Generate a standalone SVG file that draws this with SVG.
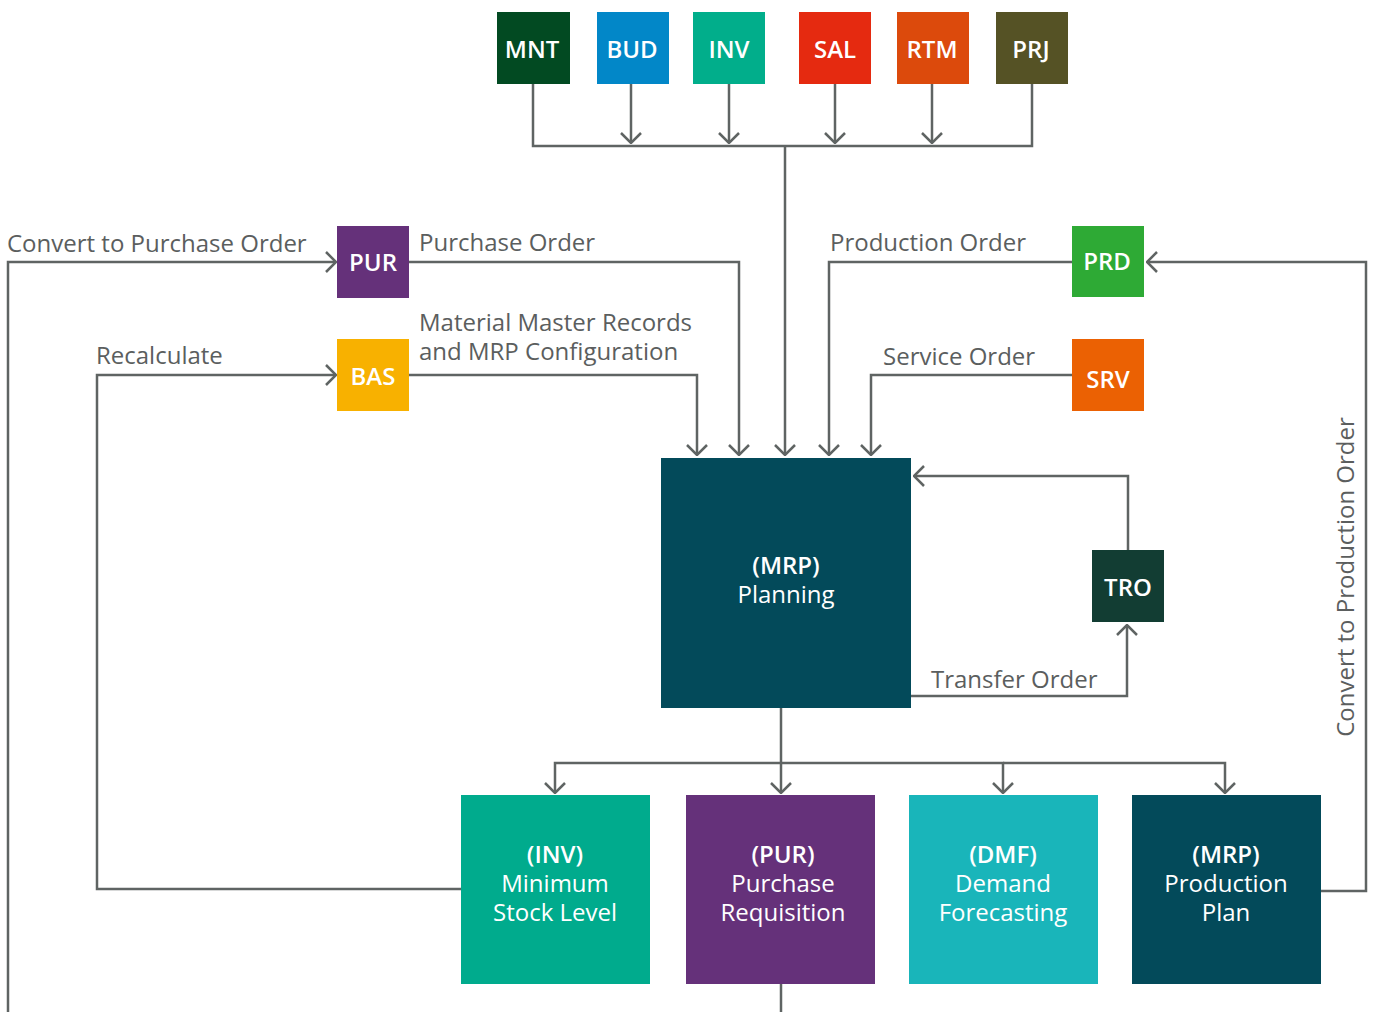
<svg xmlns="http://www.w3.org/2000/svg" width="1375" height="1012" viewBox="0 0 1375 1012">
  <style>
    .lbl { font-family: "Open Sans", "Noto Sans", sans-serif; font-size: 24px; fill: #5b5e5e; }
    .code { font-family: "Open Sans", "Noto Sans", sans-serif; font-size: 24px; font-weight: 600; fill: #ffffff; text-anchor: middle; }
    .title { font-family: "Open Sans", "Noto Sans", sans-serif; font-size: 24px; fill: #ffffff; text-anchor: middle; }
    .title .b { font-weight: 600; }
    .wire { fill: none; stroke: #5f6463; stroke-width: 2.5; }
    .arr { marker-end: url(#chev); }
  </style>
  <defs>
    <marker id="chev" viewBox="0 0 12 22" refX="11" refY="11" markerWidth="12" markerHeight="22" markerUnits="userSpaceOnUse" orient="auto">
      <path d="M1,1 L11,11 L1,21" fill="none" stroke="#5f6463" stroke-width="2.5"/>
    </marker>
  </defs>

  <rect width="1375" height="1012" fill="#ffffff"/>

  <!-- connectors -->
  <g id="connectors">
    <!-- source modules collecting into the planning trunk -->
    <path class="wire" d="M533,84 V146 H1032 V84"/>
    <path class="wire arr" d="M631,84 V143"/>
    <path class="wire arr" d="M729,84 V143"/>
    <path class="wire arr" d="M835,84 V143"/>
    <path class="wire arr" d="M932,84 V143"/>
    <path class="wire arr" d="M785,146 V455"/>
    <!-- PUR / BAS into planning -->
    <path class="wire arr" d="M409,262 H739 V455"/>
    <path class="wire arr" d="M409,375 H697 V455"/>
    <!-- PRD / SRV into planning -->
    <path class="wire arr" d="M1072,262 H829 V455"/>
    <path class="wire arr" d="M1072,375 H871 V455"/>
    <!-- transfer order loop -->
    <path class="wire arr" d="M1128,550 V476 H914"/>
    <path class="wire arr" d="M911,696 H1127 V625"/>
    <!-- planning outputs -->
    <path class="wire arr" d="M781,708 V793"/>
    <path class="wire arr" d="M781,763 H555 V793"/>
    <path class="wire arr" d="M781,763 H1003 V793"/>
    <path class="wire arr" d="M1003,763 H1225 V793"/>
    <!-- feedback loops -->
    <path class="wire arr" d="M461,889 H97 V375 H336"/>
    <path class="wire" d="M781,984 V1012"/>
    <path class="wire arr" d="M8,1012 V262 H336"/>
    <path class="wire arr" d="M1321,891 H1366 V262 H1147"/>
  </g>

  <!-- connector labels -->
  <g id="labels">
    <text class="lbl" x="7" y="252">Convert to Purchase Order</text>
    <text class="lbl" x="96" y="364">Recalculate</text>
    <text class="lbl" x="419" y="251">Purchase Order</text>
    <text class="lbl" x="419" y="331">Material Master Records</text>
    <text class="lbl" x="419" y="360">and MRP Configuration</text>
    <text class="lbl" x="830" y="251">Production Order</text>
    <text class="lbl" x="883" y="365">Service Order</text>
    <text class="lbl" x="931" y="688">Transfer Order</text>
    <text class="lbl" transform="translate(1354,577) rotate(-90)" text-anchor="middle">Convert to Production Order</text>
  </g>

  <!-- top source modules -->
  <g id="node-mnt"><rect x="497" y="12" width="73" height="72" fill="#024A22"/><text class="code" x="532" y="58">MNT</text></g>
  <g id="node-bud"><rect x="597" y="12" width="72" height="72" fill="#0287C8"/><text class="code" x="632" y="58">BUD</text></g>
  <g id="node-inv"><rect x="693" y="12" width="72" height="72" fill="#01AE8B"/><text class="code" x="729" y="58">INV</text></g>
  <g id="node-sal"><rect x="799" y="12" width="72" height="72" fill="#E52A10"/><text class="code" x="835" y="58">SAL</text></g>
  <g id="node-rtm"><rect x="897" y="12" width="72" height="72" fill="#DC4A0C"/><text class="code" x="932" y="58">RTM</text></g>
  <g id="node-prj"><rect x="996" y="12" width="72" height="72" fill="#555225"/><text class="code" x="1031" y="58">PRJ</text></g>

  <!-- side modules -->
  <g id="node-pur"><rect x="337" y="226" width="72" height="72" fill="#65317A"/><text class="code" x="373" y="271">PUR</text></g>
  <g id="node-bas"><rect x="337" y="339" width="72" height="72" fill="#F8B100"/><text class="code" x="373" y="385">BAS</text></g>
  <g id="node-prd"><rect x="1072" y="226" width="72" height="71" fill="#2EAA35"/><text class="code" x="1107" y="270">PRD</text></g>
  <g id="node-srv"><rect x="1072" y="339" width="72" height="72" fill="#EB6103"/><text class="code" x="1108" y="388">SRV</text></g>
  <g id="node-tro"><rect x="1092" y="550" width="72" height="72" fill="#123D33"/><text class="code" x="1128" y="596">TRO</text></g>

  <!-- planning core -->
  <g id="node-planning">
    <rect x="661" y="458" width="250" height="250" fill="#034A5A"/>
    <text class="title"><tspan class="b" x="786" y="574">(MRP)</tspan><tspan x="786" y="603">Planning</tspan></text>
  </g>

  <!-- planning results -->
  <g id="node-min-stock">
    <rect x="461" y="795" width="189" height="189" fill="#00AB8D"/>
    <text class="title"><tspan class="b" x="555" y="863">(INV)</tspan><tspan x="555" y="892">Minimum</tspan><tspan x="555" y="921">Stock Level</tspan></text>
  </g>
  <g id="node-pur-req">
    <rect x="686" y="795" width="189" height="189" fill="#65317A"/>
    <text class="title"><tspan class="b" x="783" y="863">(PUR)</tspan><tspan x="783" y="892">Purchase</tspan><tspan x="783" y="921">Requisition</tspan></text>
  </g>
  <g id="node-demand">
    <rect x="909" y="795" width="189" height="189" fill="#19B5BA"/>
    <text class="title"><tspan class="b" x="1003" y="863">(DMF)</tspan><tspan x="1003" y="892">Demand</tspan><tspan x="1003" y="921">Forecasting</tspan></text>
  </g>
  <g id="node-prod-plan">
    <rect x="1132" y="795" width="189" height="189" fill="#034A5A"/>
    <text class="title"><tspan class="b" x="1226" y="863">(MRP)</tspan><tspan x="1226" y="892">Production</tspan><tspan x="1226" y="921">Plan</tspan></text>
  </g>
</svg>
